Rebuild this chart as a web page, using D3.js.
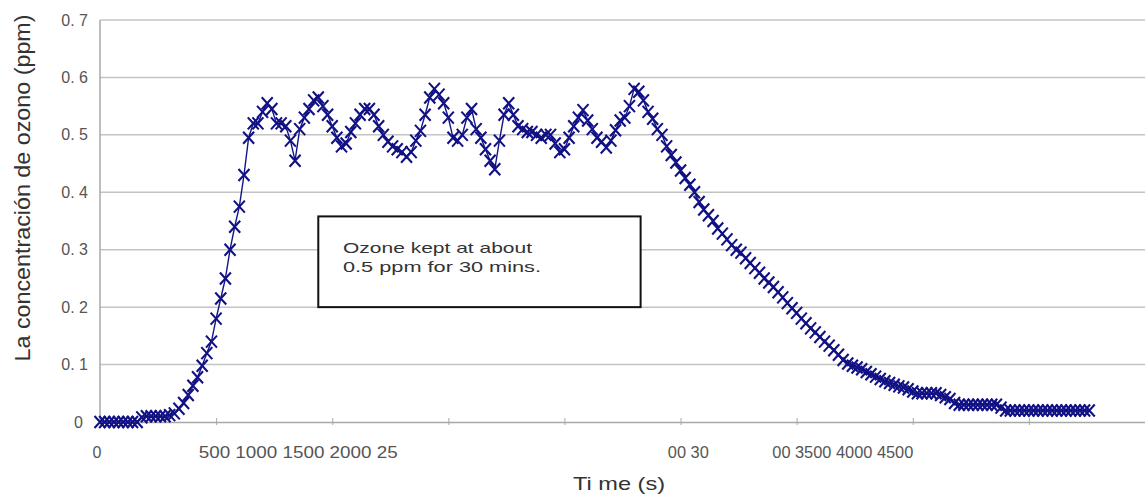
<!doctype HTML>
<html>
<head>
    <style>
        body { margin: 0; background: #ffffff; }
        text { font-family: "Liberation Sans", Arial, sans-serif; }
    </style>
    <script src="https://d3js.org/d3.v7.min.js"></script>
</head>
<body>
<div id="ozoneChart"></div>
<script>

    // time of each reading (s)
    var timeSec = [
        0, 20, 40, 60, 80, 100, 120, 140, 160, 180,
        200, 220, 240, 260, 280, 300, 320, 340, 360, 380,
        400, 420, 440, 460, 480, 500, 520, 540, 560, 580,
        600, 620, 640, 660, 680, 700, 720, 740, 760, 780,
        800, 820, 840, 860, 880, 900, 920, 940, 960, 980,
        1000, 1020, 1040, 1060, 1080, 1100, 1120, 1140, 1160, 1180,
        1200, 1220, 1240, 1260, 1280, 1300, 1320, 1340, 1360, 1380,
        1400, 1420, 1440, 1460, 1480, 1500, 1520, 1540, 1560, 1580,
        1600, 1620, 1640, 1660, 1680, 1700, 1720, 1740, 1760, 1780,
        1800, 1820, 1840, 1860, 1880, 1900, 1920, 1940, 1960, 1980,
        2000, 2020, 2040, 2060, 2080, 2100, 2120, 2140, 2160, 2180,
        2200, 2220, 2240, 2260, 2280, 2300, 2320, 2340, 2360, 2380,
        2400, 2420, 2440, 2460, 2480, 2500, 2520, 2540, 2560, 2580,
        2600, 2620, 2640, 2660, 2680, 2700, 2720, 2740, 2760, 2780,
        2800, 2820, 2840, 2860, 2880, 2900, 2920, 2940, 2960, 2980,
        3000, 3020, 3040, 3060, 3080, 3100, 3120, 3140, 3160, 3180,
        3200, 3220, 3240, 3260, 3280, 3300, 3320, 3340, 3360, 3380,
        3400, 3420, 3440, 3460, 3480, 3500, 3520, 3540, 3560, 3580,
        3600, 3620, 3640, 3660, 3680, 3700, 3720, 3740, 3760, 3780,
        3800, 3820, 3840, 3860, 3880, 3900, 3920, 3940, 3960, 3980,
        4000, 4020, 4040, 4060, 4080, 4100, 4120, 4140, 4160, 4180,
        4200, 4220, 4240, 4260
    ];

    // ozone concentration (ppm)
    var ozonePpm = [
        0, 0, 0, 0, 0, 0, 0, 0, 0, 0.008,
        0.01, 0.01, 0.01, 0.01, 0.01, 0.012, 0.015, 0.023, 0.033, 0.047,
        0.063, 0.078, 0.098, 0.12, 0.14, 0.18, 0.215, 0.25, 0.3, 0.34,
        0.375, 0.43, 0.495, 0.52, 0.52, 0.54, 0.555, 0.545, 0.52, 0.52,
        0.515, 0.49, 0.455, 0.51, 0.53, 0.545, 0.56, 0.565, 0.55, 0.535,
        0.515, 0.495, 0.48, 0.485, 0.505, 0.52, 0.535, 0.545, 0.545, 0.535,
        0.515, 0.5, 0.488, 0.48, 0.475, 0.47, 0.462, 0.47, 0.49, 0.507,
        0.535, 0.565, 0.58, 0.57, 0.555, 0.53, 0.495, 0.49, 0.5, 0.53,
        0.545, 0.51, 0.495, 0.475, 0.455, 0.44, 0.49, 0.535, 0.555, 0.535,
        0.515, 0.51, 0.505, 0.505, 0.5, 0.495, 0.5, 0.5, 0.485, 0.47,
        0.475, 0.495, 0.515, 0.53, 0.543, 0.525, 0.51, 0.495, 0.488, 0.478,
        0.49, 0.508, 0.525, 0.53, 0.55, 0.58, 0.575, 0.56, 0.54, 0.528,
        0.51, 0.5, 0.48, 0.465, 0.452, 0.438, 0.425, 0.413, 0.4, 0.383,
        0.37, 0.36, 0.35, 0.337, 0.328, 0.318, 0.308, 0.3, 0.295, 0.285,
        0.277, 0.268, 0.26, 0.25, 0.243, 0.235, 0.226, 0.217, 0.207, 0.198,
        0.19, 0.18, 0.172, 0.163, 0.156, 0.148, 0.14, 0.133, 0.125, 0.117,
        0.108, 0.102, 0.098, 0.095, 0.092, 0.087, 0.083, 0.079, 0.075, 0.071,
        0.068, 0.065, 0.062, 0.06, 0.057, 0.053, 0.05, 0.05, 0.05, 0.05,
        0.05, 0.047, 0.043, 0.04, 0.033, 0.03, 0.03, 0.03, 0.03, 0.03,
        0.03, 0.03, 0.03, 0.03, 0.025, 0.02, 0.02, 0.02, 0.02, 0.02,
        0.02, 0.02, 0.02, 0.02, 0.02, 0.02, 0.02, 0.02, 0.02, 0.02,
        0.02, 0.02, 0.02, 0.02
    ];

    // axis ticks and labels (the x labels are garbled in the original)
    var yTickValues = [0, 0.1, 0.2, 0.3, 0.4, 0.5, 0.6, 0.7];
    var yTickLabels = ["0", "0. 1", "0. 2", "0. 3", "0. 4", "0. 5", "0. 6", "0. 7"];
    var xTickValues = [0, 500, 1000, 1500, 2000, 2500, 3000, 3500, 4000, 4500];
    var xTickLabels = ["0", "500 1000 1500 2000 25", "00 30", "00 3500 4000 4500"];
    var xLabelStart = [0, 425, 2445, 2895];

    var noteLines = ["Ozone kept at about", "0.5 ppm for 30 mins."];

    // setup the canvas
    var canvasWidth = 1145;
    var canvasHeight = 495;

    var svg = d3.select("#ozoneChart").append("svg")
        .attr("width", canvasWidth)
        .attr("height", canvasHeight)

    var x = d3.scaleLinear().domain([0, 4500]).range([100, 1145]);
    var y = d3.scaleLinear().domain([0, 0.7]).range([422, 20]);

    // horizontal gridlines
    svg.append("g")
        .selectAll("line")
        .data(yTickValues.slice(1))
        .join("line")
        .attr("x1", x(0))
        .attr("x2", x(4500))
        .attr("y1", d => y(d))
        .attr("y2", d => y(d))
        .attr("stroke", "#c4c4c4")
        .attr("stroke-width", 1.5)

    // y axis line
    svg.append("line")
        .attr("x1", x(0)).attr("x2", x(0))
        .attr("y1", y(0)).attr("y2", y(0.7))
        .attr("stroke", "#a8a8a8")
        .attr("stroke-width", 1.5)

    // x axis with small ticks
    var xAxis = d3.axisBottom(x)
        .tickValues(xTickValues)
        .tickSize(3)
        .tickSizeOuter(0)
        .tickFormat("")
    var xAxisG = svg.append("g")
        .attr("transform", "translate(0," + y(0) + ")")
        .call(xAxis)
    xAxisG.select(".domain").attr("stroke", "#a8a8a8").attr("stroke-width", 1.5)
    xAxisG.selectAll(".tick line")
        .attr("stroke", "#a8a8a8")
        .attr("y1", -4)

    // y tick labels
    svg.append("g")
        .selectAll("text")
        .data(yTickValues)
        .join("text")
        .attr("x", (d, i) => i == 0 ? 83 : 88)
        .attr("y", d => y(d))
        .attr("dy", "0.35em")
        .attr("text-anchor", "end")
        .attr("font-size", "16px")
        .attr("fill", "#555")
        .text((d, i) => yTickLabels[i])

    // x tick labels
    var xLabelWidths = [0, 199, 41, 141];
    svg.append("g")
        .selectAll("text")
        .data(xTickLabels)
        .join("text")
        .attr("x", (d, i) => i == 0 ? x(xLabelStart[i]) - 3 : x(xLabelStart[i]))
        .attr("y", 458)
        .attr("text-anchor", (d, i) => i == 0 ? "middle" : "start")
        .attr("font-size", "16px")
        .attr("fill", "#555")
        .each(function(d, i) {
            if (xLabelWidths[i] > 0) {
                d3.select(this)
                    .attr("textLength", xLabelWidths[i])
                    .attr("lengthAdjust", "spacingAndGlyphs")
            }
        })
        .text(d => d)

    // axis titles
    svg.append("text")
        .attr("x", 573)
        .attr("y", 490)
        .attr("font-size", "19px")
        .attr("fill", "#333")
        .attr("textLength", 92)
        .attr("lengthAdjust", "spacingAndGlyphs")
        .text("Ti me (s)")

    svg.append("text")
        .attr("transform", "translate(30," + 188 + ") rotate(-90)")
        .attr("text-anchor", "middle")
        .attr("font-size", "22px")
        .attr("fill", "#333")
        .attr("textLength", 347)
        .attr("lengthAdjust", "spacingAndGlyphs")
        .text("La concentración de ozono (ppm)")

    // data line and x markers
    var points = timeSec.map((t, i) => [t, ozonePpm[i]]);

    svg.append("path")
        .datum(points)
        .attr("fill", "none")
        .attr("stroke", "#14148a")
        .attr("stroke-width", 1.4)
        .attr("d", d3.line().x(d => x(d[0])).y(d => y(d[1])))

    svg.append("g")
        .selectAll("path")
        .data(points)
        .join("path")
        .attr("transform", d => "translate(" + x(d[0]) + "," + y(d[1]) + ")")
        .attr("d", "M-5.5,-6L5.5,6M-5.5,6L5.5,-6")
        .attr("stroke", "#111185")
        .attr("stroke-width", 2.1)
        .attr("fill", "none")

    // annotation box
    svg.append("rect")
        .attr("x", x(940))
        .attr("y", y(0.358))
        .attr("width", x(2328) - x(940))
        .attr("height", y(0.2) - y(0.358))
        .attr("fill", "#ffffff")
        .attr("stroke", "#111")
        .attr("stroke-width", 2)

    var noteWidths = [189, 198];
    svg.append("g")
        .selectAll("text")
        .data(noteLines)
        .join("text")
        .attr("x", 343)
        .attr("y", (d, i) => 253 + i * 19)
        .attr("font-size", "15px")
        .attr("fill", "#333")
        .attr("textLength", (d, i) => noteWidths[i])
        .attr("lengthAdjust", "spacingAndGlyphs")
        .text(d => d)

</script>
</body>
</html>
